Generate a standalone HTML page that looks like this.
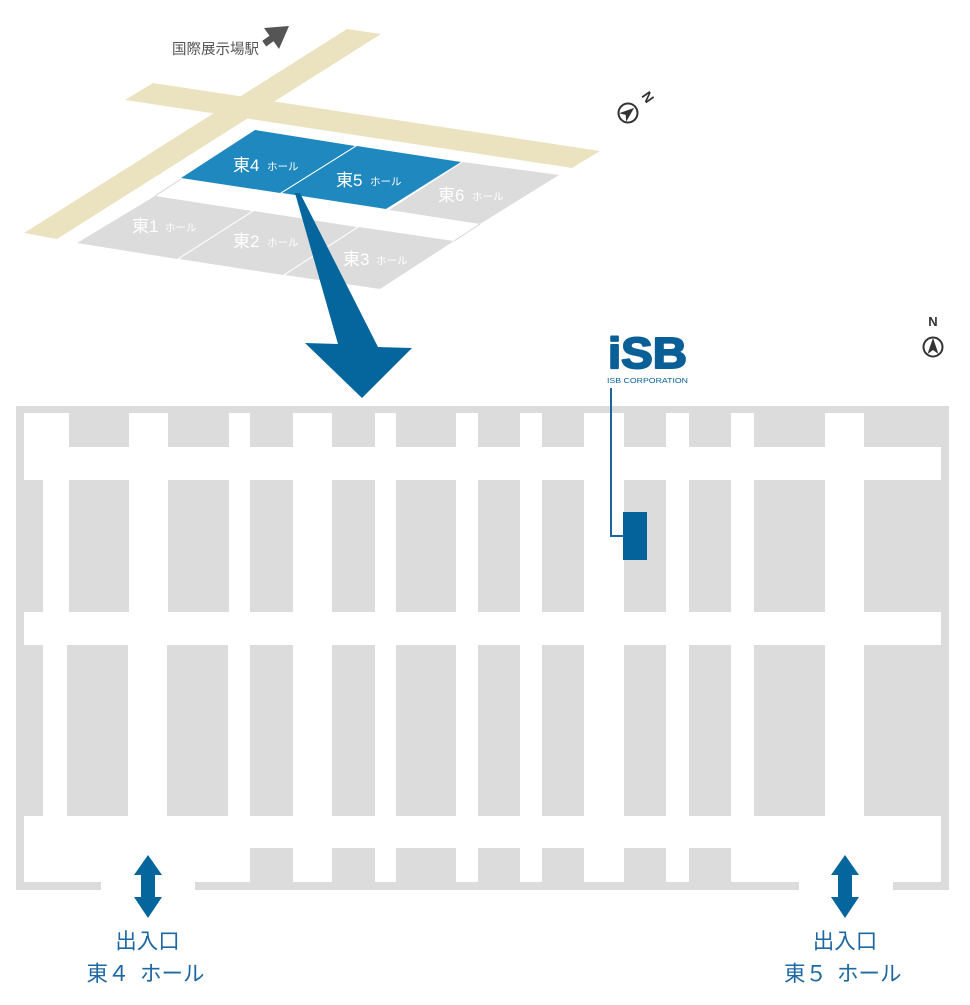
<!DOCTYPE html>
<html>
<head>
<meta charset="utf-8">
<style>
html,body{margin:0;padding:0;background:#fff;}
body{width:970px;height:1005px;overflow:hidden;}
svg{display:block;}
text{font-family:"Liberation Sans","Noto Sans CJK JP",sans-serif;}
</style>
</head>
<body>
<svg width="970" height="1005" viewBox="0 0 970 1005" xmlns="http://www.w3.org/2000/svg">
  <polygon points="347,29 381,34 57,239 24,233" fill="#ebe3bf"/>
  <polygon points="153,83 600,151 572,168 125,100" fill="#ebe3bf"/>

  <polygon points="255,130 355,146 280,193 181,178" fill="#1f88bf"/>
  <polygon points="357,146 461,162 386,209 282,193" fill="#1f88bf"/>
  <polygon points="463,162 559,175 480,224 389,210" fill="#dcdcdc"/>
  <polygon points="155,196 252,211 177,259 77,243" fill="#dcdcdc"/>
  <polygon points="254,211 357,227 283,275 179,259" fill="#dcdcdc"/>
  <polygon points="359,227 454,241 380,289 285,275" fill="#dcdcdc"/>
  <line x1="181" y1="179" x2="155" y2="196" stroke="#d4d4d4" stroke-width="1"/>
  <line x1="480" y1="224" x2="454" y2="241" stroke="#d4d4d4" stroke-width="1"/>

  <g fill="#ffffff">
    <text x="233" y="171" font-size="17">東4</text><text x="267" y="170" font-size="10.5">ホール</text>
    <text x="336" y="186" font-size="17">東5</text><text x="370" y="185" font-size="10.5">ホール</text>
    <text x="438" y="201" font-size="17">東6</text><text x="472" y="200" font-size="10.5">ホール</text>
    <text x="132" y="232" font-size="17">東1</text><text x="165" y="231" font-size="10.5">ホール</text>
    <text x="233" y="247" font-size="17">東2</text><text x="267" y="246" font-size="10.5">ホール</text>
    <text x="343" y="265" font-size="17">東3</text><text x="376" y="264" font-size="10.5">ホール</text>
  </g>

  <text x="172" y="54" font-size="14.5" fill="#555555">国際展示場駅</text>
  <polygon points="289,26 264,28 269.5,35.7 262.2,40.9 266.2,46.5 273.5,41.3 279,49" fill="#555555"/>

  <polygon points="295,193 300,193 378,347 412,348 362,398 305,343 338,344" fill="#04669c"/>

  <g transform="translate(628,113) rotate(50)">
    <circle cx="0" cy="0" r="9.5" fill="#fff" stroke="#333" stroke-width="2"/>
    <polygon points="0,-8 -5.5,7 0,3 5.5,7" fill="#333"/>
  </g>
  <g transform="translate(648,97) rotate(55)">
    <text x="0" y="5" font-size="14" font-weight="bold" fill="#333" text-anchor="middle">N</text>
  </g>

  <text x="933" y="326" font-size="13" font-weight="bold" fill="#333" text-anchor="middle">N</text>
  <circle cx="933" cy="347" r="9.5" fill="#fff" stroke="#333" stroke-width="2"/>
  <polygon points="933,338 927.5,354 933,350 938.5,354" fill="#333"/>

  <text x="608" y="368" font-size="44" font-weight="bold" fill="#0b5f97" stroke="#0b5f97" stroke-width="2" stroke-linejoin="round" textLength="79" lengthAdjust="spacingAndGlyphs">iSB</text>
  <text x="607" y="383" font-size="7.5" fill="#0b5f97" textLength="81" lengthAdjust="spacingAndGlyphs">ISB CORPORATION</text>

  <rect x="16" y="406" width="933" height="484" fill="#dcdcdc"/>
  <rect x="24" y="413" width="917" height="469" fill="#ffffff"/>
  <rect x="101" y="880" width="94" height="12" fill="#ffffff"/>
  <rect x="799" y="880" width="94" height="12" fill="#ffffff"/>

  <g fill="#dcdcdc">
    <rect x="69" y="413" width="60" height="34"/>
    <rect x="168" y="413" width="61" height="34"/>
    <rect x="250" y="413" width="43" height="34"/>
    <rect x="332" y="413" width="43" height="34"/>
    <rect x="396" y="413" width="60" height="34"/>
    <rect x="478" y="413" width="42" height="34"/>
    <rect x="542" y="413" width="42" height="34"/>
    <rect x="624" y="413" width="42" height="34"/>
    <rect x="689" y="413" width="42" height="34"/>
    <rect x="754" y="413" width="71" height="34"/>
    <rect x="864" y="413" width="77" height="34"/>

    <rect x="24" y="480" width="19" height="132"/>
    <rect x="69" y="480" width="60" height="132"/>
    <rect x="168" y="480" width="61" height="132"/>
    <rect x="250" y="480" width="43" height="132"/>
    <rect x="332" y="480" width="43" height="132"/>
    <rect x="396" y="480" width="60" height="132"/>
    <rect x="478" y="480" width="42" height="132"/>
    <rect x="542" y="480" width="42" height="132"/>
    <rect x="624" y="480" width="42" height="132"/>
    <rect x="689" y="480" width="42" height="132"/>
    <rect x="754" y="480" width="71" height="132"/>
    <rect x="864" y="480" width="77" height="132"/>

    <rect x="24" y="645" width="19" height="171"/>
    <rect x="67" y="645" width="61" height="171"/>
    <rect x="167" y="645" width="61" height="171"/>
    <rect x="250" y="645" width="43" height="171"/>
    <rect x="332" y="645" width="43" height="171"/>
    <rect x="396" y="645" width="60" height="171"/>
    <rect x="478" y="645" width="42" height="171"/>
    <rect x="542" y="645" width="42" height="171"/>
    <rect x="624" y="645" width="42" height="171"/>
    <rect x="689" y="645" width="42" height="171"/>
    <rect x="754" y="645" width="71" height="171"/>
    <rect x="864" y="645" width="77" height="171"/>

    <rect x="250" y="848" width="43" height="34"/>
    <rect x="332" y="848" width="43" height="34"/>
    <rect x="396" y="848" width="60" height="34"/>
    <rect x="478" y="848" width="42" height="34"/>
    <rect x="542" y="848" width="42" height="34"/>
    <rect x="624" y="848" width="42" height="34"/>
    <rect x="689" y="848" width="42" height="34"/>
  </g>

  <polyline points="611,388 611,536 623,536" fill="none" stroke="#1a66a0" stroke-width="2"/>
  <rect x="623" y="512" width="24" height="48" fill="#04639a"/>

  <polygon points="148,855 162,875 155,875 155,897 162,897 148,918 134,897 141,897 141,875 134,875" fill="#04669c"/>
  <polygon points="845,855 859,875 852,875 852,897 859,897 845,918 831,897 838,897 838,875 831,875" fill="#04669c"/>

  <g fill="#1d68a3" font-size="21.5">
    <text x="147.5" y="948.5" text-anchor="middle">出入口</text>
    <text x="129.5" y="981" text-anchor="end">東４</text>
    <text x="140" y="981">ホール</text>
    <text x="845" y="948.5" text-anchor="middle">出入口</text>
    <text x="827" y="981" text-anchor="end">東５</text>
    <text x="837" y="981">ホール</text>
  </g>
</svg>
</body>
</html>
